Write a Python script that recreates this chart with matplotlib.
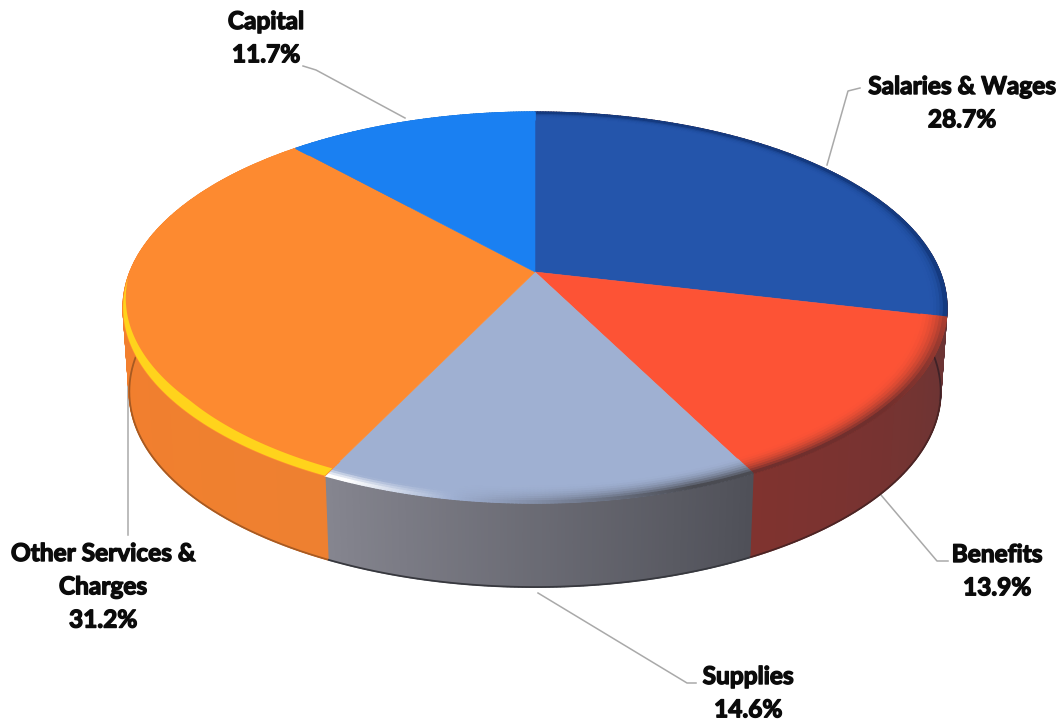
import numpy as np
import matplotlib
matplotlib.use('Agg')
import matplotlib.pyplot as plt
import matplotlib.patheffects as pe
from matplotlib.collections import PolyCollection
from matplotlib.colors import to_rgb

# chart data, clockwise from 12 o'clock
categories = ['Salaries & Wages', 'Benefits', 'Supplies', 'Other Services &\nCharges', 'Capital']
values = [28.7, 13.9, 14.6, 31.2, 11.7]

top_colors = ['#2455ab', '#fd5335', '#9fb0d2', '#fd8a30', '#1a80f2']
side_left = ['#5a3038', '#80332f', '#85858f', '#f67e2c', '#1a60b0']
side_right = ['#5a3038', '#6b3434', '#4f5058', '#ee8030', '#1a60b0']
rim_colors = ['#143a80', '#702f2d', '#4a4b52', '#fd8a30', '#1a80f2']

label_pos = [(962, 88), (997, 556), (748, 678), (103, 555), (266, 23)]
leaders = [
    [(860, 88), (848, 91), (827, 165)],
    [(948, 561), (937, 561), (881, 495)],
    [(696, 683), (687, 683), (538, 593)],
    [(128, 535), (128, 383)],
    [(303, 66), (316, 70), (405, 118)],
]

CX, CY = 535, 272
RX, RY = 405, 189
K = 0.182
DEPTH = 84


def project(r, theta):
    x = r * np.sin(theta)
    y = r * np.cos(theta)
    w = 1 + K * y
    return CX + RX * x / w, CY - RY * y / w


def project_bottom(theta):
    px, py = project(1.0, theta)
    return CX + (px - CX) * 0.985, py + DEPTH


def mix(a, b, t):
    a, b = np.array(to_rgb(a)), np.array(to_rgb(b))
    return tuple(a + (b - a) * t)


def add_polys(ax, polys, colors, z):
    ax.add_collection(PolyCollection(polys, facecolors=colors, edgecolors=colors,
                                     linewidths=1.0, zorder=z))


fig = plt.figure(figsize=(10.64, 7.21), dpi=100)
ax = fig.add_axes([0, 0, 1, 1])
ax.set_xlim(0, 1064)
ax.set_ylim(721, 0)
ax.axis('off')

edges = np.cumsum([0] + values) / sum(values) * 2 * np.pi

for i, name in enumerate(categories):
    a0, a1 = edges[i], edges[i + 1]
    th = np.linspace(a0, a1, int(values[i] * 8) + 2)

    # side wall
    polys, cols = [], []
    for j in range(len(th) - 1):
        t = j / (len(th) - 2)
        p0, p1 = project(1, th[j]), project(1, th[j + 1])
        q0, q1 = project_bottom(th[j]), project_bottom(th[j + 1])
        polys.append([p0, p1, q1, q0])
        cols.append(mix(side_left[i], side_right[i], 1 - t))
    add_polys(ax, polys, cols, 2)

    # dark line along the bottom of the wall
    bx, by = project_bottom(th)
    ax.plot(bx, by, color=mix(side_right[i], '#000000', 0.3), lw=1.3, zorder=3,
            solid_capstyle='butt')

    # top face
    rx, ry = project(1, th)
    face = [(CX, CY)] + list(zip(rx, ry))
    ax.fill([p[0] for p in face], [p[1] for p in face], color=top_colors[i], lw=0.4, zorder=4)

    # soft shading toward the rim
    radii = np.linspace(0.94, 1.0, 9)
    polys, cols = [], []
    for n in range(len(radii) - 1):
        depth_t = (n + 1) / (len(radii) - 1)
        for j in range(len(th) - 1):
            t = j / (len(th) - 2)
            front = np.clip(-np.cos((th[j] + th[j + 1]) / 2) + 0.15, 0, 1)
            if i == 2:
                # u runs left to right along the front edge
                u = 1 - t
                if u > 0.3:
                    c = mix(top_colors[i], rim_colors[i], depth_t ** 2 * min(1, (u - 0.3) * 1.8))
                else:
                    c = mix(top_colors[i], '#ffffff', max(0, depth_t - 0.6) * 2.5 * min(1, (0.3 - u) * 4))
            elif i == 1:
                c = mix(top_colors[i], rim_colors[i], depth_t ** 2 * min(1, front + 0.2))
            elif i == 0:
                c = mix(top_colors[i], rim_colors[i], depth_t ** 5)
            else:
                c = top_colors[i]
            p0, p1 = project(radii[n], th[j]), project(radii[n], th[j + 1])
            q0, q1 = project(radii[n + 1], th[j]), project(radii[n + 1], th[j + 1])
            polys.append([p0, p1, q1, q0])
            cols.append(c)
    add_polys(ax, polys, cols, 5)

    # yellow crescent along the front of the orange slice
    if i == 3:
        sweep = np.linspace(a0, a0 + (a1 - a0) * 0.56, 80)
        taper = np.clip(np.linspace(1, 0, len(sweep)) * 1.7, 0, 1)
        ox, oy = project(1.0, sweep)
        ix, iy = project(1 - 0.03 * taper, sweep)
        ax.fill(np.r_[ox, ix[::-1]], np.r_[oy, iy[::-1]], color='#ffd31c', lw=0, zorder=6)

    # leader line and label
    lx, ly = zip(*leaders[i])
    ax.plot(lx, ly, color='#a9a9a9', lw=1.1, zorder=1, solid_joinstyle='round')
    tx, ty = label_pos[i]
    ax.text(tx, ty - 13, f'{name}\n{values[i]}%', ha='center', va='top', fontsize=17.6,
            family=['Lato', 'DejaVu Sans'], fontweight='bold', color='#0b0b0b',
            linespacing=1.54, zorder=8,
            path_effects=[pe.withStroke(linewidth=1.0, foreground='#0b0b0b')])

fig.savefig('out.png', dpi=100)
